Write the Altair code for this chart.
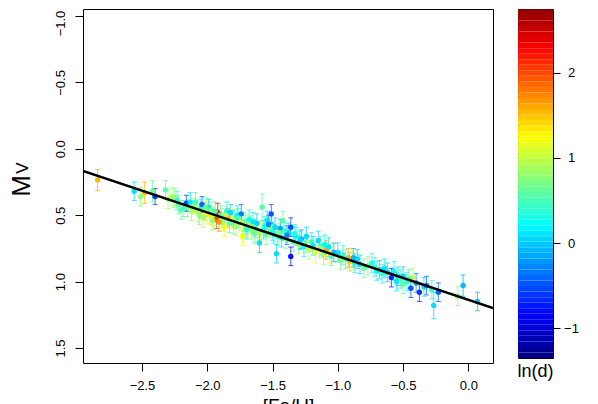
import altair as alt
import pandas as pd
import numpy as np

FONT = "Liberation Sans"

# [Fe/H], M_V, error on M_V, ln(d)
feh = [-2.84, -2.56, -2.51, -2.48, -2.42, -2.40, -2.32, -2.30, -2.25, -2.23,
       -2.20, -2.18, -2.16, -2.13, -2.10, -2.07, -2.05, -2.04, -2.02, -2.00,
       -1.99, -1.97, -1.95, -1.93, -1.92, -1.90, -1.88, -1.87, -1.85, -1.84,
       -1.82, -1.80, -1.79, -1.77, -1.75, -1.74, -1.73, -1.71, -1.69, -1.68,
       -1.66, -1.64, -1.62, -1.60, -1.59, -1.58, -1.56, -1.54, -1.52, -1.51,
       -1.49, -1.47, -1.46, -1.44, -1.42, -1.40, -1.38, -1.36, -1.36, -1.34,
       -1.32, -1.30, -1.28, -1.26, -1.24, -1.22, -1.20, -1.17, -1.15, -1.13,
       -1.11, -1.09, -1.07, -1.05, -1.03, -1.00, -0.98, -0.96, -0.92, -0.91,
       -0.89, -0.87, -0.85, -0.83, -0.80, -0.77, -0.74, -0.70, -0.68, -0.66,
       -0.62, -0.59, -0.57, -0.55, -0.54, -0.52, -0.50, -0.50, -0.47, -0.44,
       -0.43, -0.40, -0.375, -0.34, -0.32, -0.28, -0.265, -0.23, -0.08, -0.04,
       0.07,
       -2.27, -2.22, -2.15, -2.12, -2.09, -2.06, -2.03, -2.01, -1.98, -1.96,
       -1.94, -1.91, -1.89, -1.86, -1.83, -1.81, -1.78, -1.76, -1.72, -1.70,
       -1.67, -1.65, -1.63, -1.61, -1.57, -1.55, -1.53, -1.50, -1.48, -1.45,
       -1.43, -1.41, -1.39, -1.33, -1.29, -1.25, -1.19, -1.14, -1.10, -1.06,
       -0.94, -0.88, -0.72, -0.64, -0.46]
mv = [0.235, 0.32, 0.36, 0.33, 0.32, 0.36, 0.31, 0.38, 0.37, 0.39,
      0.46, 0.45, 0.41, 0.40, 0.43, 0.48, 0.45, 0.42, 0.47, 0.49,
      0.44, 0.46, 0.51, 0.53, 0.48, 0.50, 0.55, 0.59, 0.47, 0.52,
      0.48, 0.57, 0.53, 0.50, 0.55, 0.49, 0.66, 0.57, 0.59, 0.53,
      0.61, 0.64, 0.56, 0.71, 0.62, 0.44, 0.58, 0.54, 0.60, 0.49,
      0.64, 0.79, 0.66, 0.60, 0.54, 0.68, 0.63, 0.59, 0.81, 0.70,
      0.66, 0.72, 0.68, 0.74, 0.66, 0.76, 0.70, 0.78, 0.69, 0.73,
      0.80, 0.76, 0.74, 0.81, 0.78, 0.78, 0.84, 0.80, 0.82, 0.85,
      0.84, 0.86, 0.83, 0.87, 0.90, 0.88, 0.86, 0.92, 0.91, 0.94,
      0.93, 0.97, 0.92, 1.00, 0.96, 0.98, 1.02, 0.96, 1.00, 1.05,
      0.97, 1.01, 1.08, 1.04, 1.03, 1.06, 1.18, 1.08, 1.11, 1.03,
      1.15,
      0.36, 0.42, 0.44, 0.47, 0.40, 0.50, 0.52, 0.44, 0.50, 0.54,
      0.47, 0.55, 0.52, 0.50, 0.56, 0.53, 0.58, 0.52, 0.55, 0.61,
      0.57, 0.55, 0.60, 0.63, 0.61, 0.65, 0.57, 0.62, 0.59, 0.63,
      0.67, 0.62, 0.65, 0.64, 0.69, 0.71, 0.73, 0.75, 0.72, 0.79,
      0.83, 0.82, 0.89, 0.90, 0.98]
err = [0.08, 0.07, 0.07, 0.08, 0.08, 0.06, 0.07, 0.07, 0.07, 0.07,
       0.07, 0.06, 0.06, 0.07, 0.06, 0.07, 0.07, 0.06, 0.07, 0.07,
       0.06, 0.06, 0.07, 0.07, 0.07, 0.07, 0.07, 0.07, 0.07, 0.07,
       0.06, 0.07, 0.07, 0.07, 0.07, 0.07, 0.07, 0.07, 0.07, 0.07,
       0.07, 0.07, 0.07, 0.07, 0.07, 0.10, 0.07, 0.07, 0.07, 0.07,
       0.07, 0.07, 0.07, 0.07, 0.07, 0.07, 0.07, 0.07, 0.07, 0.07,
       0.07, 0.07, 0.07, 0.07, 0.07, 0.07, 0.07, 0.08, 0.07, 0.07,
       0.07, 0.07, 0.07, 0.07, 0.07, 0.07, 0.07, 0.07, 0.07, 0.07,
       0.07, 0.07, 0.07, 0.07, 0.07, 0.07, 0.07, 0.07, 0.07, 0.07,
       0.07, 0.07, 0.07, 0.07, 0.07, 0.07, 0.07, 0.07, 0.07, 0.07,
       0.07, 0.07, 0.07, 0.07, 0.07, 0.07, 0.10, 0.07, 0.07, 0.08,
       0.07,
       0.07, 0.07, 0.07, 0.07, 0.07, 0.07, 0.07, 0.07, 0.07, 0.07,
       0.07, 0.07, 0.07, 0.07, 0.07, 0.07, 0.07, 0.07, 0.07, 0.07,
       0.07, 0.07, 0.07, 0.07, 0.07, 0.07, 0.07, 0.07, 0.07, 0.07,
       0.07, 0.07, 0.07, 0.07, 0.07, 0.07, 0.07, 0.07, 0.07, 0.07,
       0.07, 0.07, 0.07, 0.07, 0.07]
lnd = [1.55, 0.05, 0.75, 1.55, 0.65, -0.60, 0.55, 0.85, 0.70, 0.35,
       0.60, 0.45, -0.55, 0.10, 0.85, 0.95, 0.30, -0.45, 1.10, 1.15,
       0.05, 0.70, 1.00, 2.00, 2.25, 0.60, 0.90, 1.20, 0.20, 1.60,
       0.05, 0.65, 0.40, 0.15, 1.05, -0.35, 1.20, 0.55, 1.15, 0.25,
       0.80, 0.60, 0.00, 0.05, 1.10, 0.55, 0.30, 0.05, 0.75, -0.50,
       0.20, 0.05, 0.45, -0.20, 0.60, 0.90, 0.05, -0.55, -0.80, 0.50,
       0.15, 0.80, -0.10, 0.25, 0.05, 1.00, 0.35, 1.20, 0.05, 0.60,
       0.90, 1.60, 0.10, 0.45, -0.15, 0.05, 0.70, 0.30, 1.60, 1.50,
       1.10, 0.20, 0.05, 0.05, 0.60, 0.70, 0.30, 0.15, 0.05, 0.40,
       0.05, -0.70, 0.20, 0.10, 0.05, 0.50, 0.60, 0.00, 0.30, -0.50,
       0.95, -0.25, -0.65, 0.10, -0.40, 0.30, 0.05, -0.45, 0.75, -0.10,
       -0.05,
       0.90, 0.60, 0.75, 0.95, 0.45, 0.80, 0.90, 0.60, 1.30, 0.85,
       0.50, 1.70, 0.75, 0.95, 0.60, 1.10, 0.90, 0.50, 0.75, 0.35,
       0.90, 0.10, 0.45, 0.80, 0.20, 0.60, -0.30, 0.35, 0.05, 0.70,
       0.10, 0.40, -0.30, 0.30, 0.05, 0.60, 0.10, 0.90, 0.20, 1.30,
       0.50, -0.10, 0.40, 0.10, 0.50]

fit_slope = 0.329
fit_intercept = 1.137

x_domain = [-2.952, 0.189]
y_domain = [-1.053, 1.613]
x_ticks = [-2.5, -2.0, -1.5, -1.0, -0.5, 0.0]
y_ticks = [-1.0, -0.5, 0.0, 0.5, 1.0, 1.5]
c_domain = [-1.35, 2.81]
cbar_shown = [-1.35, 2.75]
cbar_ticks = [-1, 0, 1, 2]

jet = ["#00007F", "#0000FF", "#007FFF", "#00FFFF", "#7FFF7F",
       "#FFFF00", "#FF7F00", "#FF0000", "#7F0000"]
stops = [float(v) for v in np.linspace(c_domain[0], c_domain[1], len(jet))]
color_scale = alt.Scale(domain=stops, range=jet, interpolate="rgb")

df = pd.DataFrame({"feh": feh, "mv": mv, "err": err, "lnd": lnd})
df["lo"] = df["mv"] - df["err"]
df["hi"] = df["mv"] + df["err"]

xscale = alt.Scale(domain=x_domain, nice=False, zero=False)
yscale = alt.Scale(domain=y_domain, nice=False, zero=False, reverse=True)
xaxis = alt.Axis(values=x_ticks, format=".1f", title="[Fe/H]", tickSize=8,
                 labelPadding=8, titlePadding=4, titleFontSize=19,
                 titleFontWeight="normal")
yaxis = alt.Axis(values=y_ticks, format=".1f", title=None, tickSize=8,
                 labelAngle=270, labelAlign="center", labelBaseline="bottom",
                 labelPadding=8,
                 labelOffset={"condition": {"test": "datum.value < -0.9", "value": 7},
                              "value": 0})

color = alt.Color("lnd:Q", scale=color_scale, legend=None)
base = alt.Chart(df)
X = alt.X("feh:Q", scale=xscale, axis=xaxis)

bars = base.mark_rule(strokeWidth=1, opacity=0.75).encode(
    x=X, y=alt.Y("lo:Q", scale=yscale, axis=yaxis), y2="hi:Q", color=color)
cap_lo = base.mark_tick(orient="horizontal", size=5, thickness=1, opacity=0.75).encode(
    x=X, y=alt.Y("lo:Q", scale=yscale, axis=yaxis), color=color)
cap_hi = base.mark_tick(orient="horizontal", size=5, thickness=1, opacity=0.75).encode(
    x=X, y=alt.Y("hi:Q", scale=yscale, axis=yaxis), color=color)
pts = base.mark_circle(size=30, opacity=0.95).encode(
    x=X, y=alt.Y("mv:Q", scale=yscale, axis=yaxis), color=color)

line_x = [x_domain[0], x_domain[1]]
line_df = pd.DataFrame({"feh": line_x,
                        "mv": [fit_slope * v + fit_intercept for v in line_x]})
fit = alt.Chart(line_df).mark_line(color="black", strokeWidth=2.5, clip=True).encode(
    x=X, y=alt.Y("mv:Q", scale=yscale, axis=yaxis))

title_m = alt.Chart(pd.DataFrame({"t": ["M"]})).mark_text(
    angle=270, fontSize=26, font=FONT, align="center", baseline="middle", color="black"
).encode(x=alt.value(-61), y=alt.value(177), text="t:N")
title_v = alt.Chart(pd.DataFrame({"t": ["V"]})).mark_text(
    angle=270, fontSize=17, font=FONT, align="center", baseline="middle", color="black"
).encode(x=alt.value(-60), y=alt.value(159), text="t:N")

main = alt.layer(bars, cap_lo, cap_hi, pts, fit, title_m, title_v).properties(
    width=410, height=354)

edges = np.linspace(c_domain[0], c_domain[1], 65)
cb_df = pd.DataFrame({"lo": edges[:-1], "hi": edges[1:]})
cb_df["mid"] = (cb_df["lo"] + cb_df["hi"]) / 2

cbar = alt.Chart(cb_df).mark_rect(clip=True).encode(
    y=alt.Y("lo:Q", scale=alt.Scale(domain=cbar_shown, nice=False, zero=False),
            axis=alt.Axis(orient="right", values=cbar_ticks, format="d", title=None,
                          tickSize=7, labelPadding=11, labelAlign="center",
                          labelBaseline="middle")),
    y2="hi:Q",
    x=alt.value(0),
    x2=alt.value(35),
    color=alt.Color("mid:Q", scale=color_scale, legend=None),
).properties(
    width=35, height=349,
    title=alt.TitleParams("ln(d)", orient="bottom", fontSize=18, font=FONT,
                          fontWeight="normal", offset=5, color="black"),
)

chart = alt.hconcat(main, cbar, spacing=22).properties(
    padding={"left": 0, "top": 0, "right": 0, "bottom": 0}
).configure_view(
    stroke="black", strokeWidth=1
).configure_axis(
    grid=False, domain=False, tickColor="black", labelColor="black",
    titleColor="black", labelFont=FONT, titleFont=FONT, labelFontSize=13,
    tickWidth=1
).configure_title(font=FONT)

chart.save("out.html", embed_options={"renderer": "svg", "actions": False})
